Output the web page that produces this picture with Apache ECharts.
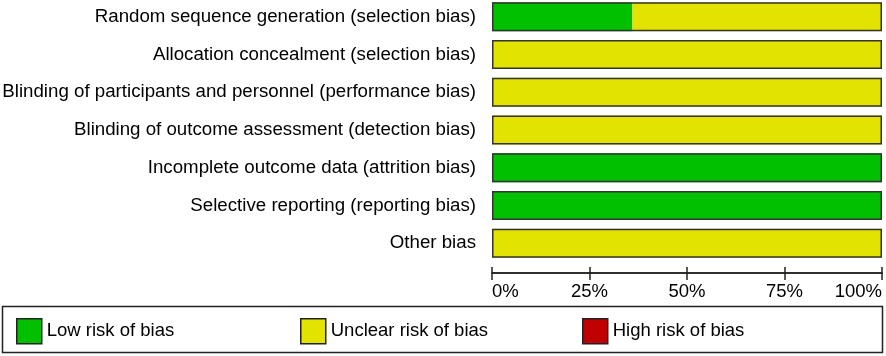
<!DOCTYPE html>
<html>
<head>
<meta charset="utf-8">
<script src="https://cdn.jsdelivr.net/npm/echarts@6/dist/echarts.min.js"></script>
<style>
  html, body { margin: 0; padding: 0; background: #fff; }
  #chart { width: 886px; height: 356px; }
</style>
</head>
<body>
<div id="chart"></div>
<script>
// risk of bias summary, percent of studies per domain
const domains = [
  'Random sequence generation (selection bias)',
  'Allocation concealment (selection bias)',
  'Blinding of participants and personnel (performance bias)',
  'Blinding of outcome assessment (detection bias)',
  'Incomplete outcome data (attrition bias)',
  'Selective reporting (reporting bias)',
  'Other bias'
]
const lowRisk = [36, 0, 0, 0, 100, 100, 0]
const unclearRisk = [64, 100, 100, 100, 0, 0, 100]
const highRisk = [0, 0, 0, 0, 0, 0, 0]
const ticks = [0, 25, 50, 75, 100]

const totals = domains.map((_, i) => lowRisk[i] + unclearRisk[i] + highRisk[i])
const font = 'Liberation Sans, Arial, sans-serif'
const outline = '#333'

const chart = echarts.init(document.getElementById('chart'))

const xCommon = {
  type: 'value', min: 0, max: 100, interval: 25,
  position: 'bottom', offset: 11,
  splitLine: { show: false },
  axisLine: { show: true, lineStyle: { color: '#222', width: 1.5 } }
}

function legendAt(left, name) {
  return {
    left, top: 313, data: [name],
    itemWidth: 25, itemHeight: 25, itemGap: 0,
    icon: 'rect', selectedMode: false,
    itemStyle: { borderColor: '#222', borderWidth: 1.5 },
    textStyle: { fontFamily: font, fontSize: 18.5, color: '#000', padding: [2, 0, 0, 0] }
  }
}

chart.setOption({
  animation: false,
  grid: { left: 492, right: 4, top: -2, height: 264, containLabel: false, outerBoundsMode: 'none' },
  xAxis: [
    {
      ...xCommon,
      axisTick: { show: true, inside: false, length: 7, lineStyle: { color: '#222', width: 1.5 } },
      axisLabel: {
        show: true, margin: 9, fontFamily: font, fontSize: 18.5, color: '#000',
        alignMinLabel: 'left', alignMaxLabel: 'right',
        formatter: v => (ticks.includes(v) ? v + '%' : '')
      }
    },
    {
      ...xCommon,
      axisTick: { show: true, inside: true, length: 6, lineStyle: { color: '#222', width: 1.5 } },
      axisLabel: { show: false }
    }
  ],
  yAxis: {
    type: 'category', data: domains, inverse: true,
    axisLine: { show: false }, axisTick: { show: false },
    axisLabel: { margin: 16, fontFamily: font, fontSize: 18.7, color: '#000' }
  },
  legend: [
    legendAt(11, 'Low risk of bias'),
    legendAt(295, 'Unclear risk of bias'),
    legendAt(577, 'High risk of bias')
  ],
  graphic: [{
    type: 'rect', left: 0, top: 304, silent: true,
    shape: { width: 880, height: 46 },
    style: { fill: 'none', stroke: '#222', lineWidth: 1.5 }
  }],
  series: [
    {
      name: 'Low risk of bias', type: 'bar', stack: 'rob', barWidth: 29, data: lowRisk,
      itemStyle: { color: '#00c000', borderColor: outline, borderWidth: 0 }
    },
    {
      name: 'Unclear risk of bias', type: 'bar', stack: 'rob', barWidth: 29, data: unclearRisk,
      itemStyle: { color: '#e3e300', borderColor: outline, borderWidth: 0 }
    },
    {
      name: 'High risk of bias', type: 'bar', stack: 'rob', barWidth: 29, data: highRisk,
      itemStyle: { color: '#c00000', borderColor: outline, borderWidth: 0 }
    },
    {
      name: 'outline', type: 'bar', barWidth: 29, barGap: '-100%', z: 3, data: totals,
      itemStyle: { color: 'rgba(0,0,0,0)', borderColor: outline, borderWidth: 1.5 },
      silent: true
    }
  ]
})
</script>
</body>
</html>
